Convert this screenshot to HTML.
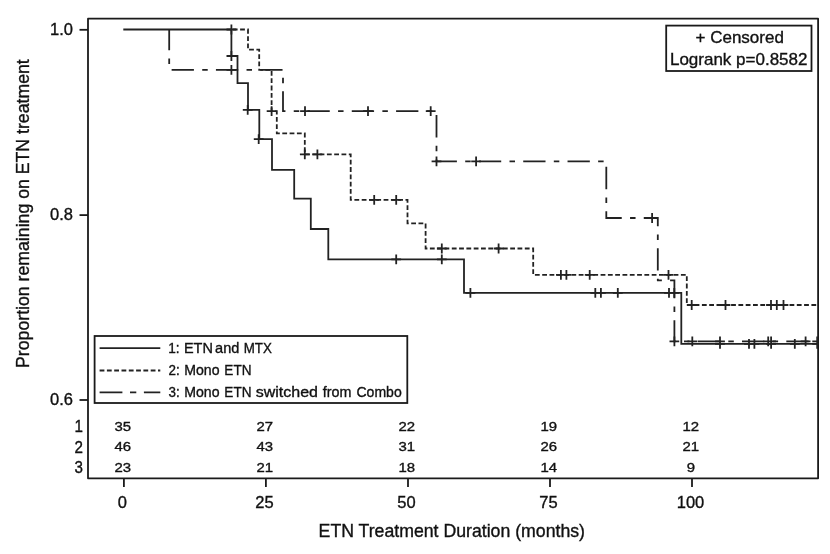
<!DOCTYPE html>
<html><head><meta charset="utf-8"><style>
html,body{margin:0;padding:0;background:#fff;width:830px;height:554px;overflow:hidden}
svg{display:block;will-change:transform;font-family:"Liberation Sans",sans-serif;fill:#111}
text{stroke:#111;stroke-width:0.35px}
</style></head><body>
<svg width="830" height="554" viewBox="0 0 830 554">
<rect x="88" y="18.7" width="730.1" height="459.6" fill="none" stroke="#1a1a1a" stroke-width="1.8" stroke-linejoin="round"/>
<path d="M79.5 29.8H88" stroke="#1a1a1a" stroke-width="1.8"/>
<text x="73" y="34.8" text-anchor="end" font-size="16.5">1.0</text>
<path d="M79.5 215.1H88" stroke="#1a1a1a" stroke-width="1.8"/>
<text x="73" y="220.1" text-anchor="end" font-size="16.5">0.8</text>
<path d="M79.5 400H88" stroke="#1a1a1a" stroke-width="1.8"/>
<text x="73" y="405.0" text-anchor="end" font-size="16.5">0.6</text>
<path d="M123.9 478.5V487" stroke="#1a1a1a" stroke-width="1.8"/>
<text x="122.4" y="508.2" text-anchor="middle" font-size="16.5">0</text>
<path d="M265.9 478.5V487" stroke="#1a1a1a" stroke-width="1.8"/>
<text x="264.4" y="508.2" text-anchor="middle" font-size="16.5">25</text>
<path d="M408.0 478.5V487" stroke="#1a1a1a" stroke-width="1.8"/>
<text x="406.5" y="508.2" text-anchor="middle" font-size="16.5">50</text>
<path d="M550.0 478.5V487" stroke="#1a1a1a" stroke-width="1.8"/>
<text x="548.5" y="508.2" text-anchor="middle" font-size="16.5">75</text>
<path d="M692.0 478.5V487" stroke="#1a1a1a" stroke-width="1.8"/>
<text x="690.5" y="508.2" text-anchor="middle" font-size="16.5">100</text>
<text x="451.8" y="537.3" text-anchor="middle" font-size="17.7">ETN Treatment Duration (months)</text>
<text transform="translate(28.9,213.6) rotate(-90)" x="0" y="0" text-anchor="middle" font-size="17.7">Proportion remaining on ETN treatment</text>
<text transform="translate(78.6,432) scale(0.92,1)" text-anchor="middle" font-size="16.5">1</text>
<text transform="translate(122.7,430.5) scale(1.15,1)" text-anchor="middle" font-size="13">35</text>
<text transform="translate(264.7,430.5) scale(1.15,1)" text-anchor="middle" font-size="13">27</text>
<text transform="translate(406.8,430.5) scale(1.15,1)" text-anchor="middle" font-size="13">22</text>
<text transform="translate(548.8,430.5) scale(1.15,1)" text-anchor="middle" font-size="13">19</text>
<text transform="translate(690.8,430.5) scale(1.15,1)" text-anchor="middle" font-size="13">12</text>
<text transform="translate(78.6,452.5) scale(0.92,1)" text-anchor="middle" font-size="16.5">2</text>
<text transform="translate(122.7,451.4) scale(1.15,1)" text-anchor="middle" font-size="13">46</text>
<text transform="translate(264.7,451.4) scale(1.15,1)" text-anchor="middle" font-size="13">43</text>
<text transform="translate(406.8,451.4) scale(1.15,1)" text-anchor="middle" font-size="13">31</text>
<text transform="translate(548.8,451.4) scale(1.15,1)" text-anchor="middle" font-size="13">26</text>
<text transform="translate(690.8,451.4) scale(1.15,1)" text-anchor="middle" font-size="13">21</text>
<text transform="translate(78.6,473) scale(0.92,1)" text-anchor="middle" font-size="16.5">3</text>
<text transform="translate(122.7,472) scale(1.15,1)" text-anchor="middle" font-size="13">23</text>
<text transform="translate(264.7,472) scale(1.15,1)" text-anchor="middle" font-size="13">21</text>
<text transform="translate(406.8,472) scale(1.15,1)" text-anchor="middle" font-size="13">18</text>
<text transform="translate(548.8,472) scale(1.15,1)" text-anchor="middle" font-size="13">14</text>
<text transform="translate(690.8,472) scale(1.15,1)" text-anchor="middle" font-size="13">9</text>
<clipPath id="cp"><rect x="88" y="18" width="730.5" height="461"/></clipPath><g clip-path="url(#cp)">
<polyline points="169.2,29.5 169.2,69.8 283.0,69.8 283.0,111.2 436.5,111.2 436.5,161.3 606.3,161.3 606.3,218.0 657.8,218.0 657.8,280.3 674.4,280.3 674.4,341.3 817.0,341.3" fill="none" stroke="#222" stroke-width="1.8" stroke-dasharray="22.3 8.3 5.5 8.21" stroke-dashoffset="45.9"/>
<polyline points="231.4,29.5 248.0,29.5 248.0,49.7 259.2,49.7 259.2,69.9 271.6,69.9 271.6,111.1 276.8,111.1 276.8,133.3 304.8,133.3 304.8,154.4 350.7,154.4 350.7,199.9 407.5,199.9 407.5,223.4 425.6,223.4 425.6,248.5 533.2,248.5 533.2,274.9 686.8,274.9 686.8,305.0 817.0,305.0" fill="none" stroke="#222" stroke-width="1.8" stroke-dasharray="4.8 2.5" stroke-dashoffset="108.1"/>
<polyline points="123.3,29.5 231.4,29.5 231.4,56.0 237.5,56.0 237.5,83.1 248.0,83.1 248.0,109.9 259.3,109.9 259.3,139.2 272.0,139.2 272.0,169.8 294.2,169.8 294.2,198.6 310.8,198.6 310.8,229.0 328.3,229.0 328.3,259.3 464.0,259.3 464.0,292.8 681.3,292.8 681.3,343.9 817.0,343.9" fill="none" stroke="#222" stroke-width="1.8"/>
<path d="M226.5 29.5H236.3M231.4 24.6V34.4M226.5 56.0H236.3M231.4 51.1V60.9M242.8 109.9H252.6M247.7 105.0V114.8M253.8 139.2H263.6M258.7 134.3V144.1M391.3 259.3H401.1M396.2 254.4V264.2M436.9 259.3H446.7M441.8 254.4V264.2M465.5 292.8H475.3M470.4 287.9V297.7M590.4 292.8H600.2M595.3 287.9V297.7M596.0 292.8H605.8M600.9 287.9V297.7M612.9 292.8H622.7M617.8 287.9V297.7M664.1 292.8H673.9M669.0 287.9V297.7M669.4 292.8H679.2M674.3 287.9V297.7M715.1 343.9H724.9M720.0 339.0V348.8M744.1 343.9H753.9M749.0 339.0V348.8M749.5 343.9H759.3M754.4 339.0V348.8M766.2 343.9H776.0M771.1 339.0V348.8M789.9 343.9H799.7M794.8 339.0V348.8M812.3 343.9H822.1M817.2 339.0V348.8M266.7 111.1H276.5M271.6 106.2V116.0M299.9 154.4H309.7M304.8 149.5V159.3M312.5 154.4H322.3M317.4 149.5V159.3M369.3 199.9H379.1M374.2 195.0V204.8M391.3 199.9H401.1M396.2 195.0V204.8M436.9 248.5H446.7M441.8 243.6V253.4M493.7 248.5H503.5M498.6 243.6V253.4M556.0 274.9H565.8M560.9 270.0V279.8M561.5 274.9H571.3M566.4 270.0V279.8M584.8 274.9H594.6M589.7 270.0V279.8M663.6 274.9H673.4M668.5 270.0V279.8M686.8 305.0H696.6M691.7 300.1V309.9M720.6 305.0H730.4M725.5 300.1V309.9M766.1 305.0H775.9M771.0 300.1V309.9M771.9 305.0H781.7M776.8 300.1V309.9M778.6 305.0H788.4M783.5 300.1V309.9M226.5 69.8H236.3M231.4 64.9V74.7M300.1 111.2H309.9M305.0 106.3V116.1M363.1 111.2H372.9M368.0 106.3V116.1M425.8 111.2H435.6M430.7 106.3V116.1M431.6 161.3H441.4M436.5 156.4V166.2M471.2 161.3H481.0M476.1 156.4V166.2M647.2 218.0H657.0M652.1 213.1V222.9M669.5 341.3H679.2M674.4 336.4V346.2M687.4 341.3H697.2M692.3 336.4V346.2M715.1 341.3H724.9M720.0 336.4V346.2M763.3 341.3H773.1M768.2 336.4V346.2M766.2 341.3H776.0M771.1 336.4V346.2M800.7 341.3H810.5M805.6 336.4V346.2M812.3 341.3H822.1M817.2 336.4V346.2" fill="none" stroke="#222" stroke-width="1.8"/>
</g>
<rect x="666.2" y="25.6" width="145.3" height="45.4" fill="none" stroke="#1a1a1a" stroke-width="1.8"/>
<text x="739.7" y="42.5" text-anchor="middle" font-size="17">+ Censored</text>
<text x="738.7" y="64.5" text-anchor="middle" font-size="17">Logrank p=0.8582</text>
<rect x="94.6" y="336" width="312.7" height="67" fill="#fff" stroke="#1a1a1a" stroke-width="1.8"/>
<path d="M99.6 348.1H160.3" stroke="#222" stroke-width="1.8"/>
<path d="M99.6 370.5H160.3" stroke="#222" stroke-width="1.8" stroke-dasharray="4.8 2.5"/>
<path d="M99.6 392.4H160.3" stroke="#222" stroke-width="1.8" stroke-dasharray="22.8 7.6 6.3 7.6"/>
<text transform="translate(168.26,353.2) scale(0.9215,1)" font-size="14.8">1:</text>
<text transform="translate(183.98,353.2) scale(0.9770,1)" font-size="14.8">ETN</text>
<text transform="translate(215.09,353.2) scale(0.9826,1)" font-size="14.8">and</text>
<text transform="translate(243.67,353.2) scale(0.9017,1)" font-size="14.8">MTX</text>
<text transform="translate(168.42,375.2) scale(0.9073,1)" font-size="14.8">2:</text>
<text transform="translate(184.21,375.2) scale(0.9537,1)" font-size="14.8">Mono</text>
<text transform="translate(224.35,375.2) scale(0.9180,1)" font-size="14.8">ETN</text>
<text transform="translate(168.45,397.2) scale(0.9048,1)" font-size="14.8">3:</text>
<text transform="translate(184.21,397.2) scale(0.9537,1)" font-size="14.8">Mono</text>
<text transform="translate(224.35,397.2) scale(0.9180,1)" font-size="14.8">ETN</text>
<text transform="translate(255.69,397.2) scale(1.0821,1)" font-size="14.8">switched</text>
<text transform="translate(322.66,397.2) scale(0.9692,1)" font-size="14.8">from</text>
<text transform="translate(356.49,397.2) scale(0.9492,1)" font-size="14.8">Combo</text>
</svg></body></html>
